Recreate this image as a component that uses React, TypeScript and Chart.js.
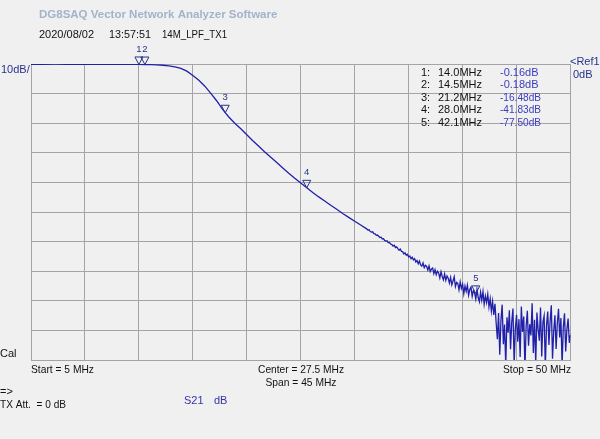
import React, { useEffect, useRef } from 'react';
import { Chart, registerables } from 'chart.js';

Chart.register(...registerables);

// ---- axis definition ----
const START_MHZ = 5;
const STOP_MHZ = 50;
const X_GRID = [5, 9.5, 14, 18.5, 23, 27.5, 32, 36.5, 41, 45.5, 50];
const Y_GRID = [0, -10, -20, -30, -40, -50, -60, -70, -80, -90, -100];

// ---- S21 trace, smooth part (MHz / dB) ----
const SMOOTH_FREQ = [5, 6, 7, 8, 9, 10, 11, 12, 13, 14, 14.5, 15, 15.5, 16, 16.5, 17, 17.5, 18, 18.5, 19, 19.5, 20, 20.5, 21, 21.5, 22, 22.5, 23, 23.5, 24, 24.5, 25, 25.5, 26, 26.5, 27, 27.5, 28, 28.5, 29, 29.5, 30, 30.5, 31, 31.5, 32, 32.5];
const SMOOTH_DB = [-0.10, -0.08, -0.07, -0.08, -0.10, -0.11, -0.12, -0.13, -0.14, -0.16, -0.18, -0.22, -0.30, -0.42, -0.62, -0.95, -1.45, -2.4, -3.9, -5.5, -7.5, -9.9, -12.5, -15.4, -17.9, -20.0, -21.9, -23.9, -25.9, -27.8, -29.7, -31.5, -33.3, -35.1, -36.9, -38.6, -40.2, -41.83, -43.4, -44.9, -46.3, -47.7, -49.1, -50.5, -51.8, -53.1, -54.4];

// ---- S21 trace, noisy part: sweep points every 0.1 MHz from 33.0 MHz ----
const NOISE_START_MHZ = 33.0;
const NOISE_STEP_MHZ = 0.1;
const NOISE_DB = [
  -55.7, -56.1, -56.0, -56.6, -56.8, -56.7, -57.3, -57.4, -57.9, -57.8,
  -58.2, -58.6, -58.5, -59.1, -59.0, -59.6, -59.8, -59.7, -60.4, -60.3,
  -60.8, -61.0, -61.5, -61.2, -62.0, -61.8, -62.4, -62.9, -62.5, -63.3,
  -63.4, -64.2, -63.8, -64.6, -64.3, -65.2, -64.9, -65.8, -65.3, -66.2,
  -65.8, -66.9, -66.4, -67.5, -66.6, -67.9, -68.3, -67.2, -68.8, -68.0,
  -68.4, -69.6, -68.2, -70.1, -69.3, -68.9, -70.8, -69.5, -71.2, -70.0,
  -70.6, -72.3, -70.2, -71.8, -72.9, -70.9, -73.1, -71.6, -72.4, -74.0,
  -72.1, -74.6, -73.3, -71.9, -75.2, -73.8, -74.1, -76.3, -73.6, -75.8,
  -74.4, -77.6, -75.0, -76.8, -74.7, -78.1, -76.2, -75.4, -78.5, -76.6,
  -77.3, -79.4, -76.2, -78.9, -80.3, -77.1, -79.8, -76.9, -81.2, -78.4,
  -80.6, -77.8, -82.1, -79.3, -83.5, -80.2, -84.8, -81.0, -87.5, -93.0,
  -84.1, -98.2, -86.5, -81.3, -94.7, -88.0, -102.0, -85.6, -90.8, -83.2,
  -96.4, -87.1, -82.6, -101.5, -89.3, -84.7, -93.8, -86.2, -99.0, -81.9,
  -90.5, -85.3, -103.0, -88.6, -83.4, -95.2, -87.9, -91.7, -80.8, -97.6,
  -86.4, -101.2, -84.0, -89.7, -93.5, -82.3, -98.8, -87.2, -85.1, -102.5,
  -88.3, -83.6, -94.9, -86.8, -81.5, -99.6, -90.2, -84.9, -96.3, -87.5,
  -82.7, -92.4, -85.8, -101.8, -88.9, -84.2, -97.1, -89.6, -86.0, -94.2,
  -91.5,
];

// ---- markers ----
const MARKER_ID = ['1', '2', '3', '4', '5'];
const MARKER_FREQ = [14.0, 14.5, 21.2, 28.0, 42.1];
const MARKER_DB = [-0.16, -0.18, -16.48, -41.83, -77.50];

const TITLE = 'DG8SAQ Vector Network Analyzer Software';
const DATE = '2020/08/02';
const TIME = '13:57:51';
const TRACE_NAME = '14M_LPF_TX1';
const SCALE_LABEL = '10dB/';
const REF_LABEL = '<Ref1';
const REF_VALUE = '0dB';
const START_LABEL = 'Start = 5 MHz';
const CENTER_LABEL = 'Center = 27.5 MHz';
const SPAN_LABEL = 'Span = 45 MHz';
const STOP_LABEL = 'Stop = 50 MHz';

const FONT = '"Liberation Sans", Arial, sans-serif';
const NAVY = '#27338a';
const TRACE = '#2020aa';

function buildTrace() {
  const pts: { x: number; y: number }[] = [];
  SMOOTH_FREQ.forEach((f, i) => pts.push({ x: f, y: SMOOTH_DB[i] }));
  NOISE_DB.forEach((d, i) => pts.push({ x: NOISE_START_MHZ + i * NOISE_STEP_MHZ, y: d }));
  return pts;
}

const overlay = {
  id: 'vnaOverlay',
  beforeDraw(chart: any) {
    const ctx = chart.ctx;
    ctx.save();
    ctx.fillStyle = '#f0f0f0';
    ctx.fillRect(0, 0, chart.width, chart.height);
    ctx.restore();
  },
  afterDraw(chart: any) {
    const ctx = chart.ctx;
    const xs = chart.scales.x;
    const ys = chart.scales.y;
    ctx.save();
    ctx.textBaseline = 'middle';

    const txt = (s: string, x: number, y: number, font: string, color: string, align = 'left', maxW?: number) => {
      ctx.font = font;
      ctx.fillStyle = color;
      ctx.textAlign = align;
      if (maxW) ctx.fillText(s, x, y, maxW);
      else ctx.fillText(s, x, y);
    };

    const f11 = `11px ${FONT}`;
    txt(TITLE, 39, 15, `bold 11.5px ${FONT}`, '#a2b4cb', 'left', 254);
    txt(DATE, 39, 35, f11, '#111');
    txt(TIME, 109, 35, f11, '#111', 'left', 42);
    txt(TRACE_NAME, 162, 35, f11, '#111', 'left', 65);

    txt(SCALE_LABEL, 1, 70, f11, NAVY);
    txt(REF_LABEL, 570, 62, f11, NAVY);
    txt(REF_VALUE, 573, 75, f11, NAVY);

    // marker table
    MARKER_ID.forEach((id, i) => {
      const y = 72.5 + i * 12.5;
      txt(id + ':', 421, y, f11, '#111');
      txt(MARKER_FREQ[i].toFixed(1) + 'MHz', 438, y, f11, '#111', 'left', 44);
      txt(MARKER_DB[i].toFixed(2) + 'dB', 500, y, f11, '#3c3cc0', 'left', 41);
    });

    // marker triangles
    ctx.strokeStyle = NAVY;
    ctx.lineWidth = 1;
    MARKER_ID.forEach((id, i) => {
      const px = xs.getPixelForValue(MARKER_FREQ[i]);
      const py = ys.getPixelForValue(MARKER_DB[i]);
      ctx.beginPath();
      ctx.moveTo(px - 4, py - 7.5);
      ctx.lineTo(px + 4, py - 7.5);
      ctx.lineTo(px, py);
      ctx.closePath();
      ctx.stroke();
      txt(id, px, py - 15, `9.5px ${FONT}`, NAVY, 'center');
    });

    // bottom labels
    txt('Cal', 0, 354, f11, '#111');
    txt(START_LABEL, 31, 370, f11, '#111', 'left', 63);
    txt(CENTER_LABEL, 301, 370, f11, '#111', 'center', 86);
    txt(SPAN_LABEL, 301, 383, f11, '#111', 'center', 71);
    txt(STOP_LABEL, 571, 370, f11, '#111', 'right', 68);
    txt('=>', 0, 392, f11, '#111');
    txt('TX Att.  = 0 dB', 0, 405, f11, '#111', 'left', 66);
    txt('S21', 184, 401, f11, '#3434a8');
    txt('dB', 214, 401, f11, '#3434a8');
    ctx.restore();
  },
};

export default function App() {
  const ref = useRef<HTMLCanvasElement>(null);
  useEffect(() => {
    if (!ref.current) return;
    const chart = new Chart(ref.current, {
      type: 'line',
      data: {
        datasets: [
          {
            data: buildTrace(),
            borderColor: TRACE,
            borderWidth: 1.3,
            pointRadius: 0,
            tension: 0,
            fill: false,
          },
        ],
      },
      options: {
        animation: false,
        responsive: false,
        events: [],
        layout: { padding: { left: 31, top: 64, right: 29.5, bottom: 79 } },
        plugins: { legend: { display: false }, tooltip: { enabled: false } },
        scales: {
          x: {
            type: 'linear',
            min: START_MHZ,
            max: STOP_MHZ,
            afterBuildTicks: (s: any) => { s.ticks = X_GRID.map((v) => ({ value: v })); },
            ticks: { display: false },
            grid: { color: '#a4a4a4', lineWidth: 1, drawTicks: false },
            border: { display: true, color: '#a4a4a4', width: 1 },
          },
          y: {
            type: 'linear',
            min: -100,
            max: 0,
            afterBuildTicks: (s: any) => { s.ticks = Y_GRID.map((v) => ({ value: v })); },
            ticks: { display: false },
            grid: { color: '#a4a4a4', lineWidth: 1, drawTicks: false },
            border: { display: true, color: '#a4a4a4', width: 1 },
          },
        },
      },
      plugins: [overlay],
    });
    return () => chart.destroy();
  }, []);
  return (
    <div style={{ position: 'fixed', left: 0, top: 0, width: 600, height: 439, background: '#f0f0f0' }}>
      <canvas ref={ref} width={600} height={439} style={{ display: 'block', width: 600, height: 439 }} />
    </div>
  );
}
